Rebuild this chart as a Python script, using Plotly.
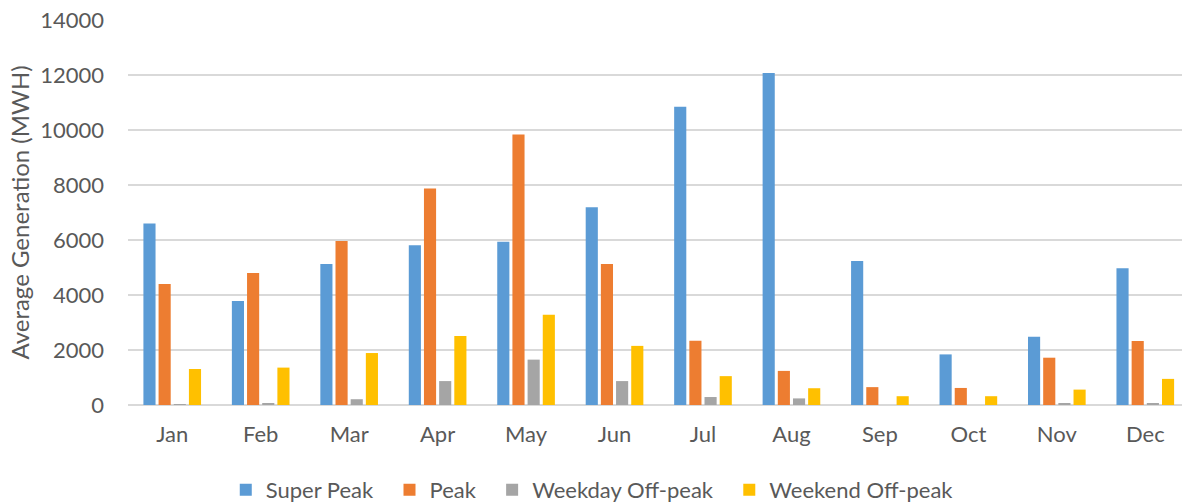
import plotly.graph_objects as go

months = ["Jan", "Feb", "Mar", "Apr", "May", "Jun", "Jul", "Aug", "Sep", "Oct", "Nov", "Dec"]

super_peak = [6600, 3780, 5130, 5810, 5940, 7190, 10850, 12070, 5240, 1840, 2480, 4970]
peak = [4400, 4800, 5960, 7870, 9840, 5130, 2340, 1240, 650, 620, 1720, 2330]
weekday_off_peak = [30, 60, 210, 870, 1650, 870, 290, 240, 0, 0, 60, 50]
weekend_off_peak = [1310, 1360, 1890, 2510, 3280, 2150, 1050, 610, 320, 320, 560, 950]

y_ticks = [0, 2000, 4000, 6000, 8000, 10000, 12000, 14000]

series = [
    ("Super Peak", super_peak, "#5B9BD5"),
    ("Peak", peak, "#ED7D31"),
    ("Weekday Off-peak", weekday_off_peak, "#A5A5A5"),
    ("Weekend Off-peak", weekend_off_peak, "#FFC000"),
]

text_color = "#595959"
grid_color = "#D9D9D9"
font_family = "Lato, sans-serif"

fig = go.Figure()
pad = "\u00a0" * 2
for name, values, color in series:
    fig.add_trace(go.Bar(
        x=months,
        y=values,
        name=name + pad,
        marker=dict(color=color, line=dict(width=0)),
    ))

fig.update_layout(
    width=1182,
    height=503,
    margin=dict(l=127.5, r=0, t=20, b=98, pad=0, autoexpand=False),
    paper_bgcolor="white",
    plot_bgcolor="white",
    barmode="group",
    bargap=0.314,
    bargroupgap=0.2,
    font=dict(family=font_family, size=22, color=text_color),
    showlegend=True,
    legend=dict(
        orientation="h",
        x=0.4457,
        xanchor="center",
        y=-0.2208,
        yanchor="middle",
        font=dict(family=font_family, size=22, color=text_color),
        itemwidth=30,
        traceorder="normal",
    ),
    xaxis=dict(
        range=[-0.5, 11.415],
        showgrid=False,
        showline=False,
        zeroline=False,
        ticks="",
        tickfont=dict(size=22, color=text_color),
        ticklabelstandoff=14,
    ),
    yaxis=dict(
        range=[0, 14000],
        tickvals=y_ticks,
        ticktext=[str(v) for v in y_ticks],
        showgrid=True,
        gridcolor=grid_color,
        gridwidth=2,
        zeroline=True,
        zerolinecolor=grid_color,
        zerolinewidth=2,
        showline=False,
        ticks="",
        tickfont=dict(size=22, color=text_color),
        ticklabelstandoff=23,
        title=dict(
            text="Average Generation (MWH)",
            font=dict(size=24, color=text_color),
            standoff=3,
        ),
    ),
)

fig.write_html("out.html")
